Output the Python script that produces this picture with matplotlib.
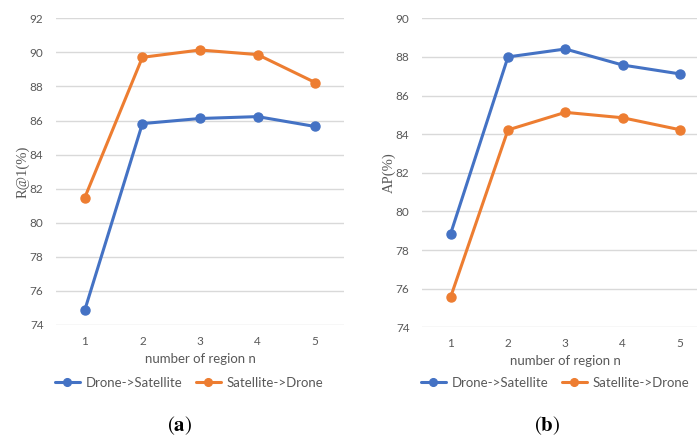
import matplotlib
matplotlib.use("Agg")
import matplotlib.pyplot as plt
from matplotlib.legend_handler import HandlerLine2D

# Data
regions = [1, 2, 3, 4, 5]
tick_labels = ["1", "2", "3", "4", "5"]

r1_drone_sat = [74.88, 85.82, 86.12, 86.23, 85.65]
r1_sat_drone = [81.48, 89.71, 90.14, 89.87, 88.23]

ap_drone_sat = [78.85, 88.00, 88.41, 87.58, 87.12]
ap_sat_drone = [75.57, 84.22, 85.13, 84.85, 84.23]

series_names = ["Drone->Satellite", "Satellite->Drone"]

BLUE = "#4472C4"
ORANGE = "#ED7D31"
GRID = "#D9D9D9"
TEXT = "#595959"

plt.rcParams["font.family"] = ["Lato", "DejaVu Sans"]
plt.rcParams["mathtext.fontset"] = "stix"

W, H = 697, 437
fig = plt.figure(figsize=(W / 100, H / 100), dpi=100)


class MarkerFirstHandler(HandlerLine2D):
    """Legend key with the marker sitting at the left end of the line."""

    def get_xdata(self, legend, xdescent, ydescent, width, height, fontsize):
        xdata = [-xdescent, -xdescent + width]
        return xdata, [-xdescent]


def px_axes(x0, x1, y_top, y_bot):
    return fig.add_axes([x0 / W, 1 - y_bot / H, (x1 - x0) / W, (y_bot - y_top) / H])


def draw_panel(ax, a, b, yticks, ylabel):
    ax.plot(regions, a, color=BLUE, lw=2.2, marker="o", ms=6.5, label=series_names[0],
            solid_capstyle="round", zorder=3)
    ax.plot(regions, b, color=ORANGE, lw=2.2, marker="o", ms=6.5, label=series_names[1],
            solid_capstyle="round", zorder=3)
    ax.set_ylim(yticks[0], yticks[-1])
    ax.set_yticks(yticks)
    ax.set_xlim(0.5, 5.5)
    ax.set_xticks(regions)
    ax.set_xticklabels(tick_labels)
    for s in ax.spines.values():
        s.set_visible(False)
    ax.grid(axis="y", color=GRID, lw=1.0, zorder=0)
    ax.tick_params(axis="both", length=0, labelsize=8.5, colors=TEXT)
    ax.tick_params(axis="y", pad=9)
    ax.tick_params(axis="x", pad=8)
    ax.set_xlabel("number of region n", fontsize=9.5, color=TEXT, labelpad=4)
    ax.set_ylabel(ylabel, fontsize=10.5, color=TEXT, family="Liberation Serif", labelpad=0)
    ax.patch.set_alpha(0)


ax1 = px_axes(56, 344, 18.3, 325)
draw_panel(ax1, r1_drone_sat, r1_sat_drone, list(range(74, 93, 2)), "R@1(%)")

ax2 = px_axes(422, 708.6, 18.3, 327.3)
draw_panel(ax2, ap_drone_sat, ap_sat_drone, list(range(74, 91, 2)), "AP(%)")

for ax, cx in ((ax1, 189), (ax2, 555)):
    handles, labels = ax.get_legend_handles_labels()
    leg = ax.legend(handles, labels, loc="center", bbox_to_anchor=(cx / W, 1 - 383 / H),
                    bbox_transform=fig.transFigure, ncol=2, frameon=False,
                    fontsize=9.5, handlelength=1.9, columnspacing=1.0,
                    handletextpad=0.45, markerscale=0.85, borderpad=0.2,
                    handler_map={h: MarkerFirstHandler() for h in handles})
    for t in leg.get_texts():
        t.set_color(TEXT)

fig.text(180 / W, 1 - 426 / H, r"$(\mathbf{a})$", ha="center", va="center",
         fontsize=15, color="black")
fig.text(547 / W, 1 - 426 / H, r"$(\mathbf{b})$", ha="center", va="center",
         fontsize=15, color="black")

fig.savefig("out.png", dpi=100, facecolor="white")
